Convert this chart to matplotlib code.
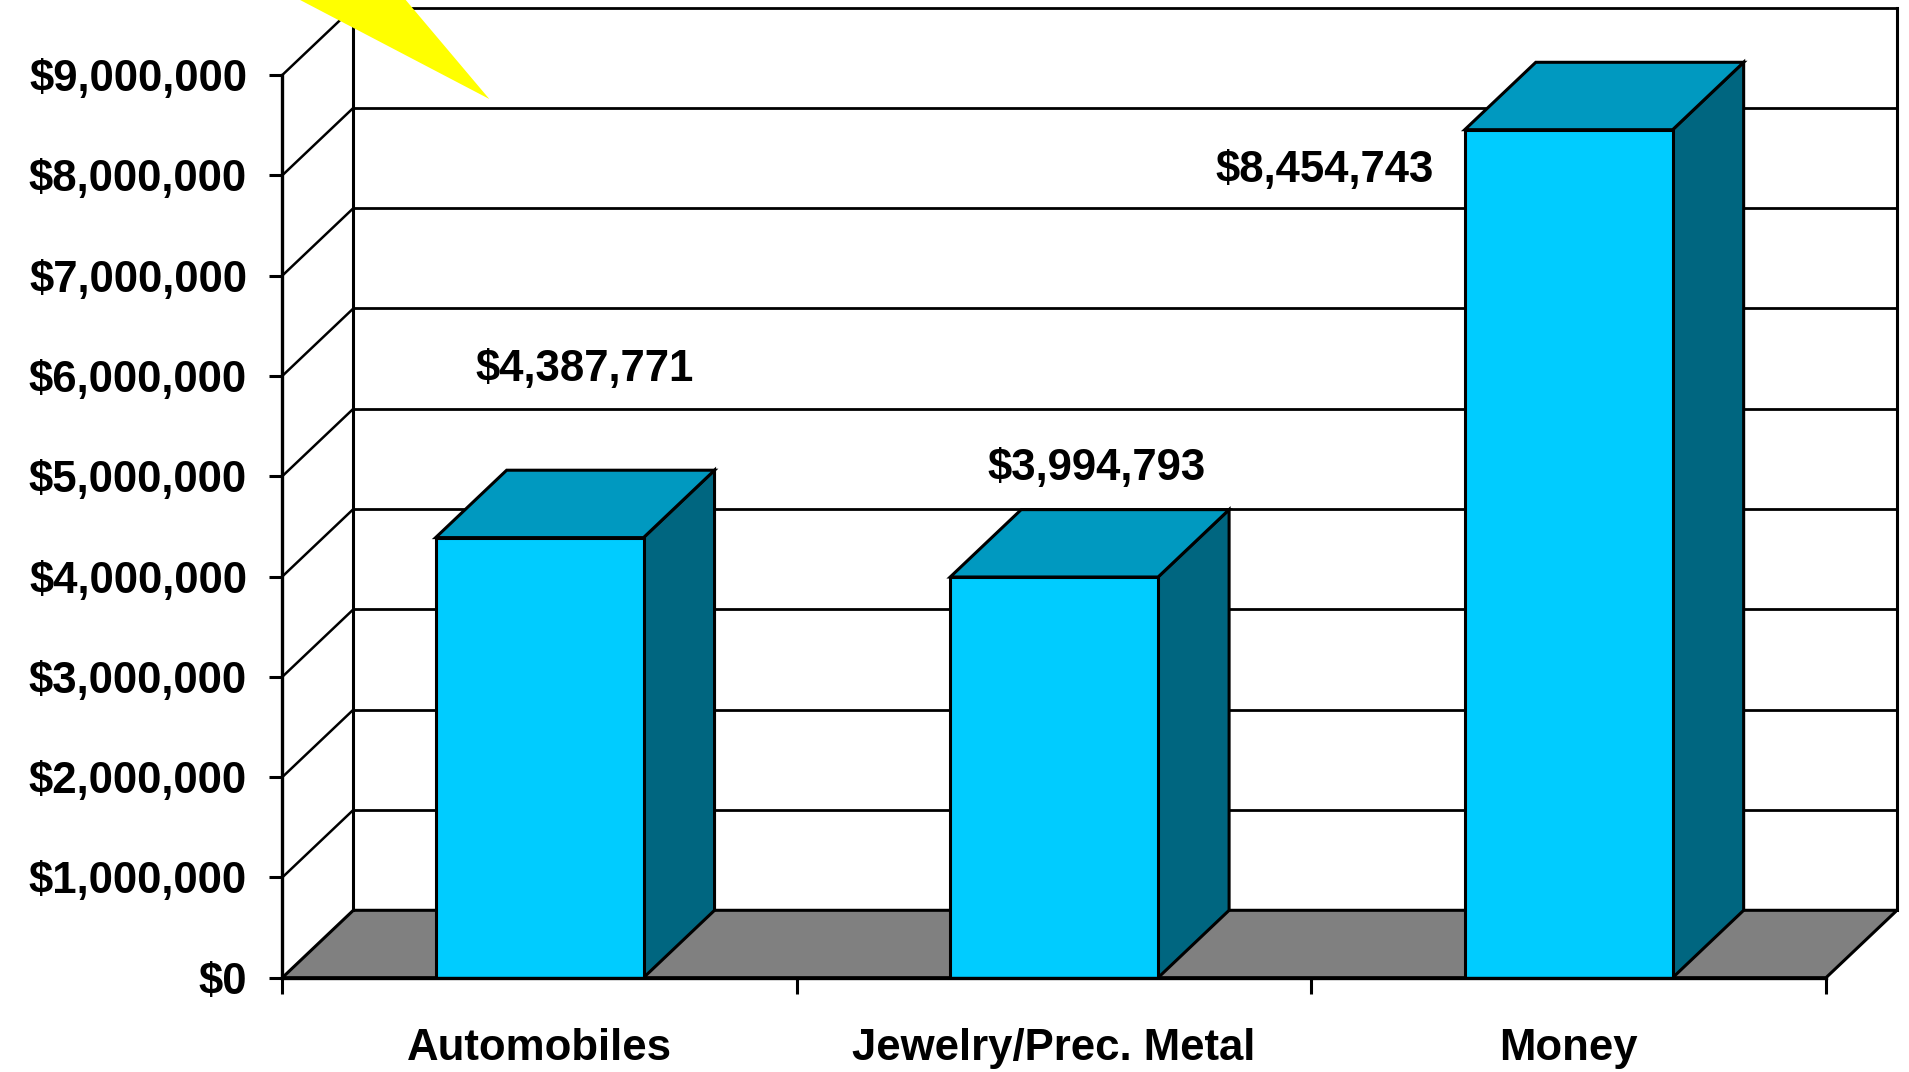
import matplotlib
matplotlib.use("Agg")
import matplotlib.pyplot as plt
from matplotlib.patches import Polygon, Rectangle

# ---- data ----
categories = ["Automobiles", "Jewelry/Prec. Metal", "Money"]
values = [4387771, 3994793, 8454743]
y_ticks = [0, 1e6, 2e6, 3e6, 4e6, 5e6, 6e6, 7e6, 8e6, 9e6]

# where Excel put each data label, relative to the bar's front-top centre
label_dx = [0.087, 0.082, -0.474]
label_dy = [1.68e6, 1.08e6, -0.41e6]

# ---- look ----
FRONT = "#00CCFF"
TOP = "#0099C0"
SIDE = "#006680"
FLOOR = "#808080"
FONT = ["Liberation Sans", "DejaVu Sans"]
FS = 31.5

W, H = 1909, 1072
DX = 0.138      # depth offset, category units
DY = 0.672e6    # depth offset, value units
BAR_W = 0.404
YMAX = 9e6

fig = plt.figure(figsize=(W / 100, H / 100), dpi=100)
left, right = 282.3 / W, 1897 / W
bottom, top = (H - 977.7) / H, (H - 7.6) / H
ax = fig.add_axes([left, bottom, right - left, top - bottom])
ax.set_xlim(0, 3 + DX)
ax.set_ylim(0, YMAX + DY)

n = len(categories)

# floor
ax.add_patch(Polygon([(0, 0), (n, 0), (n + DX, DY), (DX, DY)], closed=True,
                     facecolor=FLOOR, edgecolor="black", lw=2.2, zorder=1))

# gridlines on back wall and side wall
for v in y_ticks[1:]:
    ax.plot([DX, n + DX], [v + DY, v + DY], color="black", lw=2.0, zorder=2,
            clip_on=False, solid_capstyle="butt")
    ax.plot([0, DX], [v, v + DY], color="black", lw=1.8, zorder=2, clip_on=False)
# back wall frame
ax.plot([DX, DX], [DY, YMAX + DY], color="black", lw=2.2, zorder=2, clip_on=False)
ax.plot([n + DX, n + DX], [DY, YMAX + DY], color="black", lw=2.2, zorder=2, clip_on=False)

# bars
for i, v in enumerate(values):
    x0 = i + 0.5 - BAR_W / 2
    x1 = x0 + BAR_W
    ax.add_patch(Polygon([(x1, 0), (x1 + DX, DY), (x1 + DX, v + DY), (x1, v)],
                         closed=True, facecolor=SIDE, edgecolor="black", lw=2.2, zorder=3))
    ax.add_patch(Polygon([(x0, v), (x1, v), (x1 + DX, v + DY), (x0 + DX, v + DY)],
                         closed=True, facecolor=TOP, edgecolor="black", lw=2.2, zorder=3))
    ax.add_patch(Rectangle((x0, 0), BAR_W, v, facecolor=FRONT, edgecolor="black",
                           lw=2.2, zorder=4))
    ax.text(i + 0.5 + label_dx[i], v + label_dy[i], f"${v:,.0f}", ha="center", va="center",
            fontsize=FS, fontweight="bold", family=FONT, zorder=6)

# axes
for s in ["top", "right"]:
    ax.spines[s].set_visible(False)
ax.spines["left"].set_bounds(0, YMAX)
ax.spines["bottom"].set_bounds(0, n)
for s in ["left", "bottom"]:
    ax.spines[s].set_linewidth(2.4)
    ax.spines[s].set_zorder(5)

ax.set_yticks(y_ticks)
ax.set_yticklabels([f"${v:,.0f}" for v in y_ticks])
ax.tick_params(axis="y", length=9.4, width=2.2, pad=16)
ax.set_xticks(range(n + 1))
ax.set_xticklabels([])
ax.tick_params(axis="x", which="major", length=11.3, width=2.2)
ax.set_xticks([i + 0.5 for i in range(n)], minor=True)
ax.set_xticklabels(categories, minor=True)
ax.tick_params(axis="x", which="minor", length=0, pad=36)
for lab in ax.get_yticklabels() + ax.get_xticklabels(minor=True):
    lab.set_fontsize(FS)
    lab.set_fontweight("bold")
    lab.set_family(FONT)
ax.patch.set_visible(False)

# yellow shape poking in at top-left
yellow = [(281, -10), (397.3, -10), (489.3, 99)]
ax.add_patch(Polygon([(x / W, 1 - y / H) for x, y in yellow], closed=True,
                     transform=fig.transFigure, facecolor="#FFFF00", edgecolor="none",
                     zorder=7, clip_on=False))

fig.savefig("out.png", dpi=100)
